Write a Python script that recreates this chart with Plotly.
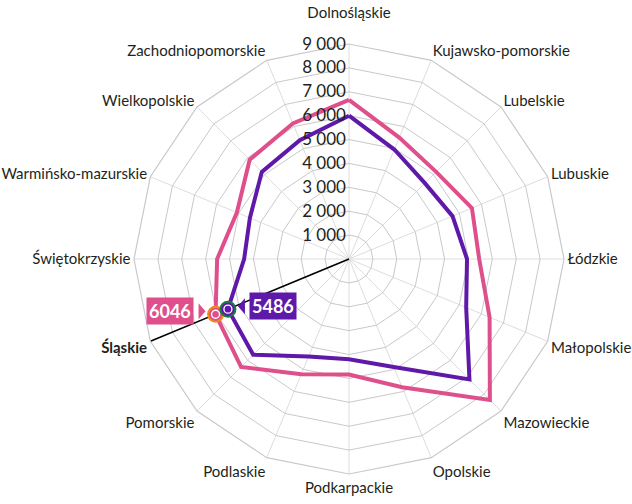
import math
import plotly.graph_objects as go

categories = ["Dolnośląskie", "Kujawsko-pomorskie", "Lubelskie", "Lubuskie", "Łódzkie",
              "Małopolskie", "Mazowieckie", "Opolskie", "Podkarpackie", "Podlaskie",
              "Pomorskie", "Śląskie", "Świętokrzyskie", "Warmińsko-mazurskie",
              "Wielkopolskie", "Zachodniopomorskie"]
series_pink = [6660, 5500, 5160, 5570, 5450, 6370, 8340, 5810, 4840, 5220,
               6390, 6046, 5520, 5080, 5880, 6140]
series_purple = [6000, 4960, 4490, 4690, 4940, 5310, 7130, 4890, 4200, 4420,
                 5670, 5486, 4390, 4490, 5160, 5380]
radial_tickvals = [1000, 2000, 3000, 4000, 5000, 6000, 7000, 8000, 9000]
radial_ticktext = ["1 000", "2 000", "3 000", "4 000", "5 000", "6 000", "7 000", "8 000", "9 000"]
highlight = "Śląskie"

PINK = "#de4f8b"
PURPLE = "#5f19a9"
GRID = "#c9c9c9"
SPOKE = "#dddddd"
TXT = "#231f20"
FONT = "Lato"

W, H = 632, 504
CX, CY, R = 349, 259, 215
RMAX = 9000

hi = categories.index(highlight)
cat_labels = []
for i, c in enumerate(categories):
    if c == highlight:
        cat_labels.append(f"<b>{c}</b>")
    elif i == 0:
        cat_labels.append(f"{c}<br>\u00a0")
    else:
        cat_labels.append(c)

fig = go.Figure()

# highlight spoke
fig.add_trace(go.Scatterpolar(r=[0, RMAX], theta=[highlight, highlight], mode="lines",
                              line=dict(color="#000000", width=1.5), hoverinfo="skip"))

for vals, col in [(series_pink, PINK), (series_purple, PURPLE)]:
    fig.add_trace(go.Scatterpolar(r=vals + [vals[0]], theta=categories + [categories[0]],
                                  mode="lines", line=dict(color=col, width=4)))

# highlight markers
for vals, col, ring in [(series_pink, PINK, "#f08a1c"), (series_purple, PURPLE, "#1b7a3c")]:
    fig.add_trace(go.Scatterpolar(r=[vals[hi]], theta=[highlight], mode="markers",
                                  marker=dict(size=15, color=col, line=dict(color=ring, width=2))))
    fig.add_trace(go.Scatterpolar(r=[vals[hi]], theta=[highlight], mode="markers",
                                  marker=dict(size=8, color=col, line=dict(color="white", width=1.3))))

fig.update_layout(
    width=W, height=H,
    margin=dict(l=0, r=0, t=0, b=0),
    paper_bgcolor="white", plot_bgcolor="white",
    showlegend=False,
    font=dict(family=FONT, color=TXT, size=15),
    polar=dict(
        domain=dict(x=[(CX - R) / W, (CX + R) / W], y=[(H - CY - R) / H, (H - CY + R) / H]),
        bgcolor="white",
        gridshape="linear",
        angularaxis=dict(direction="clockwise", rotation=90, type="category",
                         categoryarray=categories, tickvals=categories, ticktext=cat_labels,
                         showline=True, linecolor=GRID, linewidth=1.2,
                         gridcolor=SPOKE, gridwidth=1, ticks="",
                         tickfont=dict(family=FONT, size=15, color=TXT)),
        radialaxis=dict(range=[0, RMAX], tickvals=radial_tickvals, ticktext=radial_ticktext,
                        angle=90, tickangle=90, side="counterclockwise", showline=False,
                        gridcolor=GRID, gridwidth=1.2, ticks="",
                        tickfont=dict(family=FONT, size=17, color=TXT)),
    ),
)

# value callouts positioned from the data value
def px_of(v, idx):
    ang = math.radians(idx * 360 / len(categories))
    rr = v / RMAX * R
    return CX + rr * math.sin(ang), CY - rr * math.cos(ang)

def to_paper(x, y):
    return x / W, 1 - y / H

for vals, col, side in [(series_pink, PINK, "left"), (series_purple, PURPLE, "right")]:
    mx, my = px_of(vals[hi], hi)
    my -= 3
    if side == "left":
        tip = mx - 10
        base = tip - 7
        bx = base - 29
    else:
        tip = mx + 10
        base = tip + 7
        bx = base + 28
    ax, ay = to_paper(bx, my)
    fig.add_annotation(x=ax, y=ay, xref="paper", yref="paper", showarrow=False,
                       text=f"<b>{vals[hi]}</b>", bgcolor=col, borderpad=2,
                       font=dict(family=FONT, size=18, color="white"),
                       xanchor="center", yanchor="middle")
    p1 = to_paper(base, my - 8)
    p2 = to_paper(tip, my)
    p3 = to_paper(base, my + 8)
    fig.add_shape(type="path", xref="paper", yref="paper",
                  path=f"M {p1[0]} {p1[1]} L {p2[0]} {p2[1]} L {p3[0]} {p3[1]} Z",
                  fillcolor=col, line=dict(width=0))

fig.write_html("out.html", config={"displayModeBar": False},
               post_script="document.body.style.margin='0';")
